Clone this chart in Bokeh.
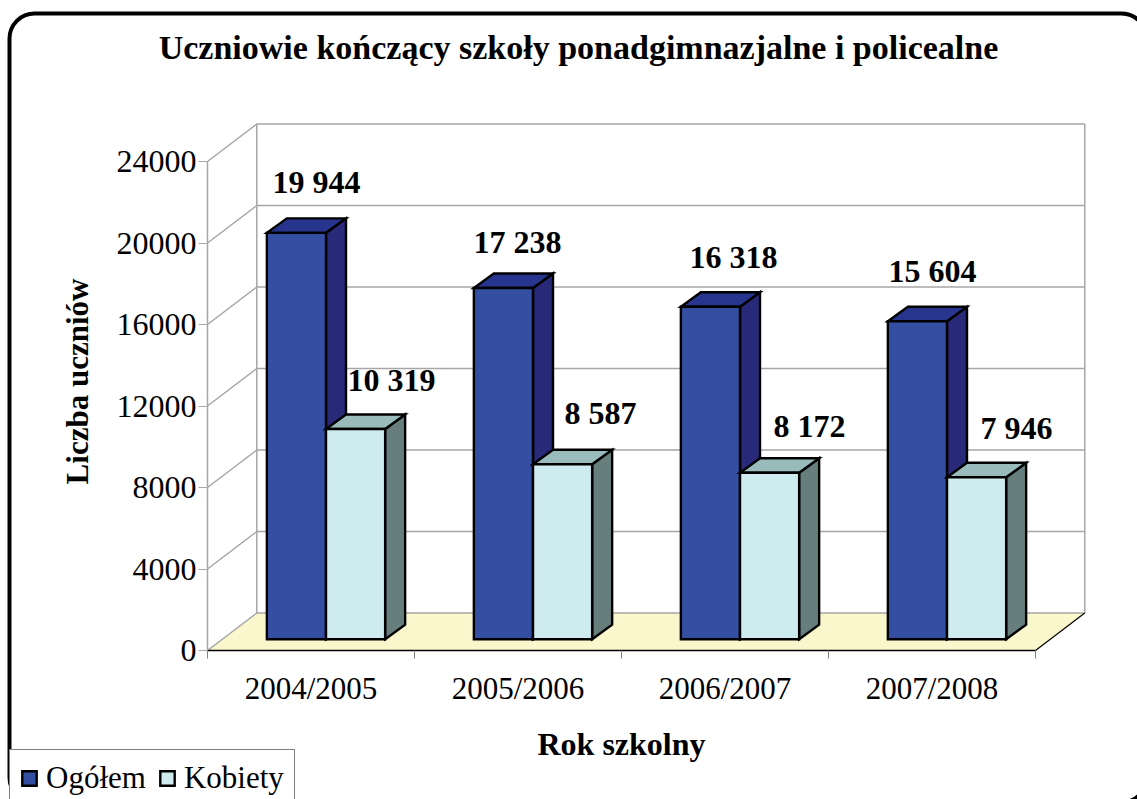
from bokeh.plotting import figure
from bokeh.models import (Range1d, LinearAxis, FixedTicker, Legend, LegendItem, BoxAnnotation)
from bokeh.core.properties import value
from bokeh.embed import file_html
from bokeh.resources import INLINE

# ---- data ----
categories = ["2004/2005", "2005/2006", "2006/2007", "2007/2008"]
ogolem = [19944, 17238, 16318, 15604]
kobiety = [10319, 8587, 8172, 7946]
y_ticks = [0, 4000, 8000, 12000, 16000, 20000, 24000]
title_text = "Uczniowie kończący szkoły ponadgimnazjalne i policealne"

# ---- layout: pixel geometry of the pseudo-3D projection ----
W, H = 1137, 799
X0_PX, CAT_PX = 207.0, 207.0           # front-plane x=0 in px, px per category
Y0_PX, Y_PX_PER = 650.0, 81.5 / 4000   # front-plane y=0 in px, px per unit
px = lambda d: d / CAT_PX              # px -> x data units
py = lambda d: d / Y_PX_PER            # px -> y data units

DX, DY = px(49.3), py(37.5)            # depth of the floor
BW = 1 / 3.5                           # bar width (category units); gap 150 %
BX, BY = px(20), py(14.5)              # depth of a bar
OX, OY = px(15), py(11.3)              # bar offset from the front plane
SERIF = value("Liberation Serif")

p = figure(width=W, height=H, output_backend="svg", toolbar_location=None,
           x_range=Range1d(-X0_PX / CAT_PX, (W - X0_PX) / CAT_PX),
           y_range=Range1d(py(Y0_PX - H), py(Y0_PX)),
           x_axis_type=None, y_axis_type=None, min_border=0,
           outline_line_color=None, background_fill_color="white")
p.grid.visible = False

# ---- floor and walls ----
n = len(categories)
top = y_ticks[-1]
p.patch([0, DX, n + DX, n], [0, DY, DY, 0], fill_color="#FBF7CC", line_color=None)
GRID = "#a6a6a6"
for v in y_ticks:
    p.line([0, DX, n + DX], [v, v + DY, v + DY], line_color=GRID, line_width=1.5)
p.line([0, 0], [0, top], line_color=GRID, line_width=1.5)
p.line([DX, DX], [DY, top + DY], line_color=GRID, line_width=1.5)
p.line([n + DX, n + DX], [DY, top + DY], line_color=GRID, line_width=1.5)
p.line([n, n + DX], [0, DY], line_color="black", line_width=1.2)


def faces(values, start):
    """Front, top and side faces of one series of 3D bars."""
    front, tp, side = ([], []), ([], []), ([], [])
    for i, v in enumerate(values):
        l = i + 0.75 * BW + start * BW + OX
        r = l + BW
        b, t = OY, v + OY
        front[0].append([l, r, r, l]); front[1].append([b, b, t, t])
        tp[0].append([l, r, r + BX, l + BX]); tp[1].append([t, t, t + BY, t + BY])
        side[0].append([r, r + BX, r + BX, r]); side[1].append([b, b + BY, t + BY, t])
    return front, tp, side


EDGE = dict(line_color="black", line_width=2.4, line_join="miter")
f1, t1, s1 = faces(ogolem, 0)
p.patches(s1[0], s1[1], fill_color="#29297A", **EDGE)
p.patches(t1[0], t1[1], fill_color="#27358F", **EDGE)
r1 = p.patches(f1[0], f1[1], fill_color="#344FA1", **EDGE)
f2, t2, s2 = faces(kobiety, 1)
p.patches(s2[0], s2[1], fill_color="#667F7D", **EDGE)
p.patches(t2[0], t2[1], fill_color="#99BBBB", **EDGE)
r2 = p.patches(f2[0], f2[1], fill_color="#CEEBEF", **EDGE)

# ---- value labels ----
fmt = lambda v: f"{v:,}".replace(",", " ")
off1 = [(20, -51), (14, -46), (23, -50), (15, -50)]
off2 = [(36, -49), (38, -51), (40, -47), (40, -49)]
for vals, start, offs in ((ogolem, 0, off1), (kobiety, 1, off2)):
    p.text([i + 0.75 * BW + (start + 0.5) * BW + OX + px(o[0]) for i, o in zip(range(n), offs)],
           [v + OY + py(-o[1]) for v, o in zip(vals, offs)],
           text=[fmt(v) for v in vals], text_font=SERIF, text_font_size="32px",
           text_font_style="bold", text_align="center", text_baseline="middle", text_color="black")

# ---- axes ----
yax = LinearAxis(fixed_location=0, bounds=(0, top), ticker=FixedTicker(ticks=y_ticks))
yax.axis_line_color = GRID
yax.major_tick_line_color = GRID
yax.major_tick_out, yax.major_tick_in = 9, 0
yax.minor_tick_line_color = None
yax.major_label_text_font = "Liberation Serif"
yax.major_label_text_font_size = "32px"
yax.major_label_text_color = "black"
yax.major_label_standoff = 2
p.add_layout(yax, "left")

xax = LinearAxis(fixed_location=0, bounds=(0, n),
                 ticker=FixedTicker(ticks=[i + 0.5 for i in range(n)], minor_ticks=list(range(n + 1))),
                 major_label_overrides={i + 0.5: c for i, c in enumerate(categories)})
xax.axis_line_color = "black"
xax.axis_line_width = 1.5
xax.major_tick_line_color = None
xax.major_tick_out, xax.major_tick_in = 0, 0
xax.minor_tick_line_color = "#808080"
xax.minor_tick_out, xax.minor_tick_in = 8, 0
xax.major_label_text_font = "Liberation Serif"
xax.major_label_text_font_size = "31px"
xax.major_label_text_color = "black"
xax.major_label_standoff = 12
xax.axis_label = "Rok szkolny"
xax.axis_label_text_font = "Liberation Serif"
xax.axis_label_text_font_size = "32px"
xax.axis_label_text_font_style = "bold"
xax.axis_label_text_color = "black"
xax.axis_label_standoff = 17
p.add_layout(xax, "below")

# ---- texts placed by hand ----
p.text([px(578 - X0_PX)], [py(Y0_PX - 47)], text=[title_text], text_font=SERIF, text_font_size="34px",
       text_font_style="bold", text_align="center", text_baseline="middle", text_color="black")
p.text([px(77 - X0_PX)], [py(Y0_PX - 381)], text=["Liczba uczniów"], text_font=SERIF, text_font_size="31px",
       text_font_style="bold", text_align="center", text_baseline="middle", text_color="black", angle=1.5708)

# ---- outer rounded frame (screen y of a box runs upward from the bottom edge here) ----
p.add_layout(BoxAnnotation(left=9, right=1146, top=H - 13, bottom=H - 802,
                           left_units="screen", right_units="screen", top_units="screen", bottom_units="screen",
                           fill_color=None, line_color="black", line_alpha=1.0, line_width=4, border_radius=25,
                           level="annotation", editable=False))

# ---- legend ----
legend = Legend(items=[LegendItem(label="Ogółem", renderers=[r1]), LegendItem(label="Kobiety", renderers=[r2])],
                orientation="horizontal", location=(9, -8),
                label_text_font="Liberation Serif", label_text_font_size="31px", label_text_color="black",
                glyph_width=18, glyph_height=18, label_standoff=8, spacing=12,
                padding=10, margin=0, border_line_color="black", border_line_width=1,
                background_fill_color="white", background_fill_alpha=1.0)
p.add_layout(legend, "center")

open("out.html", "w").write(file_html(p, INLINE))
